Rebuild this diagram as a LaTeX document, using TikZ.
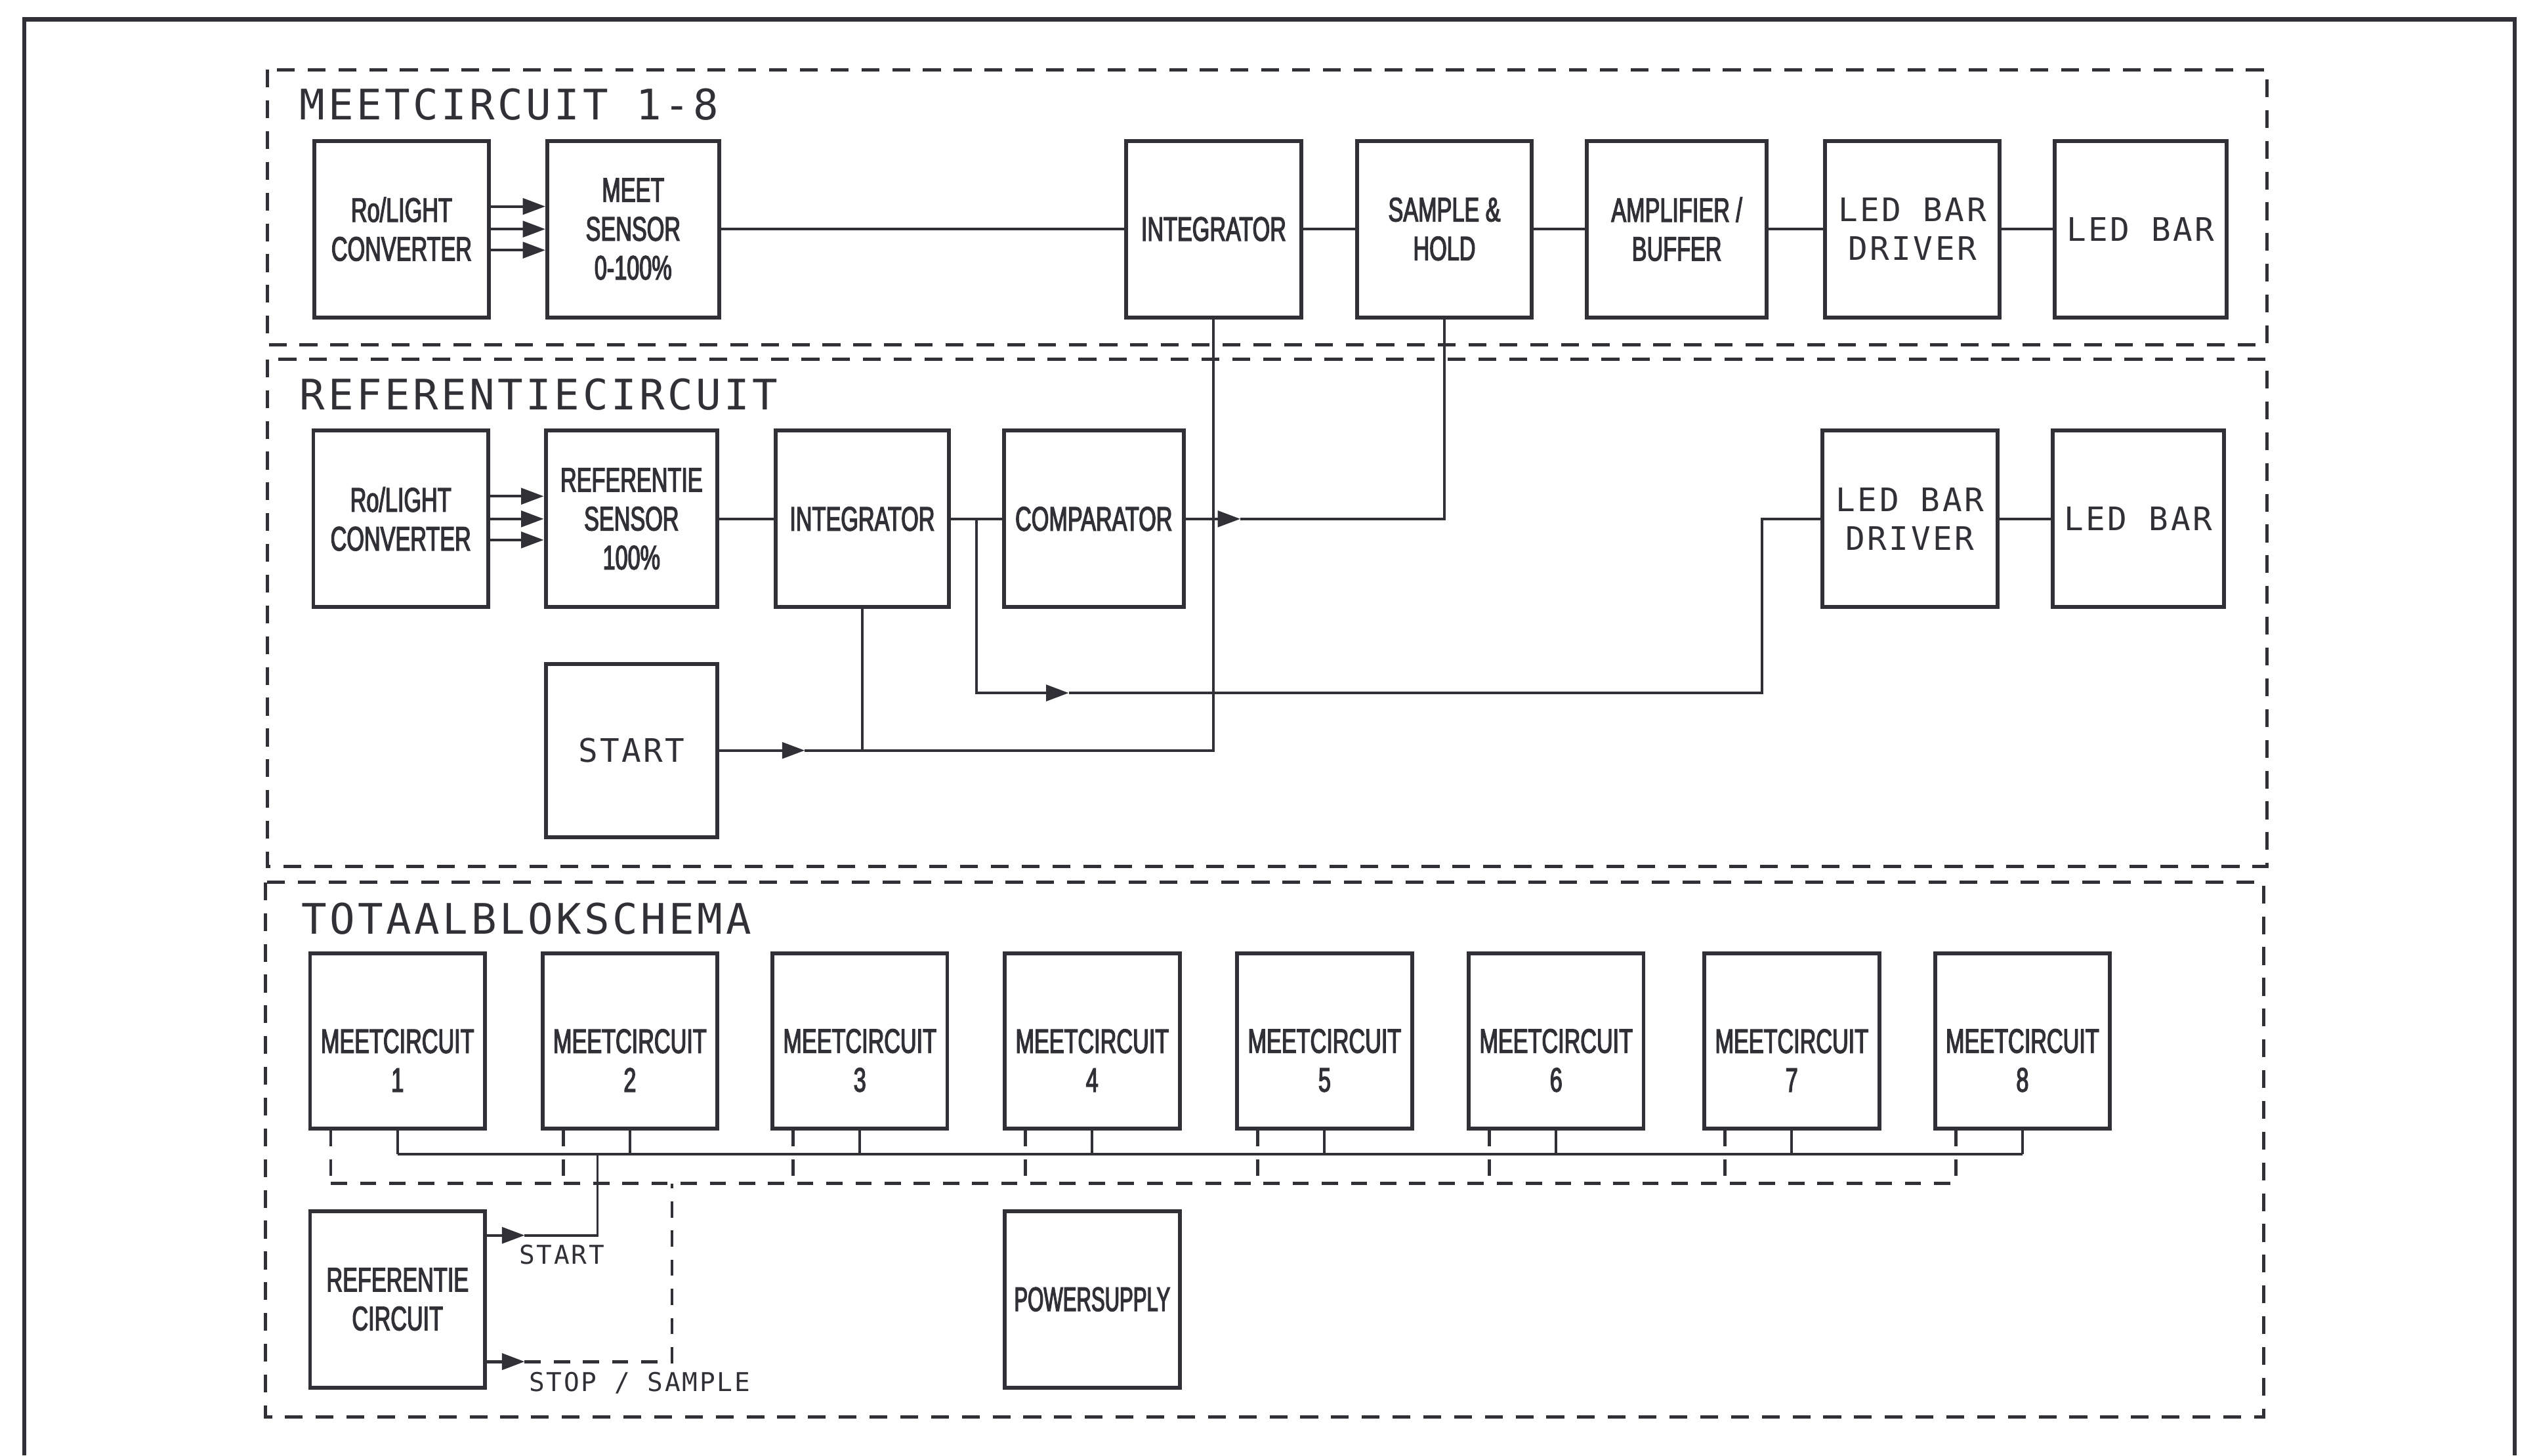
\documentclass[tikz,border=0pt]{standalone}
\usepackage{fontspec}
\usetikzlibrary{arrows.meta}
\newfontfamily\plotw[LetterSpace=7]{DejaVu Sans Mono}
\newfontfamily\plotc[FakeStretch=0.66,FakeBold=2.5]{Liberation Sans}
\newfontfamily\plotcc[FakeStretch=0.6,FakeBold=2.5]{Liberation Sans}
\definecolor{ink}{RGB}{48,48,54}
\begin{document}
\begin{tikzpicture}[x=1pt,y=-1pt,
  every node/.style={text=ink},
  blk/.style={draw=ink, line width=2.4pt, minimum width=108pt, minimum height=109pt,
    inner sep=0pt, align=center, font=\plotc\fontsize{21}{24}\selectfont},
  wblk/.style={blk, font=\plotw\fontsize{20}{24}\selectfont},
  mclab/.style={align=center, font=\plotc\fontsize{21}{24}\selectfont, yshift=-12pt, inner sep=0pt},
  title/.style={anchor=base west, inner sep=0pt, font=\plotw\fontsize{26}{30}\selectfont},
  lab/.style={inner sep=0pt, font=\plotw\fontsize{16}{20}\selectfont},
  frame/.style={draw=ink, line width=2pt, dash pattern=on 11pt off 8pt},
  conn/.style={draw=ink, line width=1.6pt},
  sig/.style={draw=ink, line width=1.9pt, dash pattern=on 10pt off 8pt},
  tip/.style={-{Triangle[length=14pt,width=10pt]}}
]
\useasboundingbox (0,0) rectangle (1568,899);
% outer frame
\draw[ink, line width=2.6pt] (15,899) -- (15,12) -- (1553,12) -- (1553,899);
% dashed section frames
\draw[frame] (165,43) rectangle (1400,213);
\draw[frame] (165,222) rectangle (1400,535);
\draw[frame] (164,545) rectangle (1398,875);
% titles
\node[title] (t1) at (185,74) {MEETCIRCUIT 1-8};
\node[title] (t2) at (185,253) {REFERENTIECIRCUIT};
\node[title] (t3) at (186,577) {TOTAALBLOKSCHEMA};

% ---- row 1: meetcircuit
\node[blk] (ro1) at (248,141.5) {Ro/LIGHT\\CONVERTER};
\node[blk, minimum width=106pt] (sens1) at (391,141.5) {MEET\\SENSOR\\0-100\%};
\node[blk] (int1) at (749.5,141.5) {INTEGRATOR};
\node[blk] (sh) at (892,141.5) {SAMPLE \&\\HOLD};
\node[blk, minimum width=111pt] (amp) at (1035.5,141.5) {AMPLIFIER /\\BUFFER};
\node[wblk] (drv1) at (1181,141.5) {LED BAR\\DRIVER};
\node[wblk, minimum width=106pt] (bar1) at (1322,141.5) {LED BAR};

% ---- row 2: referentiecircuit
\node[blk] (ro2) at (247.5,320.5) {Ro/LIGHT\\CONVERTER};
\node[blk, minimum width=106pt] (sens2) at (390,320.5) {REFERENTIE\\SENSOR\\100\%};
\node[blk, minimum width=107pt] (int2) at (532.5,320.5) {INTEGRATOR};
\node[blk, minimum width=111pt] (comp) at (675.5,320.5) {COMPARATOR};
\node[wblk] (drv2) at (1179.5,320.5) {LED BAR\\DRIVER};
\node[wblk, minimum width=106pt] (bar2) at (1320.5,320.5) {LED BAR};
\node[wblk, minimum width=106pt, minimum height=107pt] (start) at (390,463.5) {START};

% row 1 connectors
\foreach \dy in {14,0,-13} {
  \draw[conn,tip] ([yshift=\dy pt]ro1.east) -- ([yshift=\dy pt]sens1.west);
  \draw[conn,tip] ([yshift=\dy pt]ro2.east) -- ([yshift=\dy pt]sens2.west);
}
\draw[conn] (sens1.east) -- (int1.west);
\draw[conn] (int1.east) -- (sh.west);
\draw[conn] (sh.east) -- (amp.west);
\draw[conn] (amp.east) -- (drv1.west);
\draw[conn] (drv1.east) -- (bar1.west);

% row 2 connectors
\draw[conn] (sens2.east) -- (int2.west);
\draw[conn] (int2.east) -- (comp.west);
\draw[conn] (drv2.east) -- (bar2.west);
\coordinate (j1) at (603,320.5);
\coordinate (a1) at (660,428);
\coordinate (k1) at (1088,428);
\draw[conn,tip] (j1) |- (a1);
\draw[conn] (a1) -- (k1) |- (drv2.west);
\coordinate (a2) at (766,320.5);
\draw[conn,tip] (comp.east) -- (a2);
\draw[conn] (a2) -| (sh.south);
\coordinate (a3) at (497,463.5);
\draw[conn,tip] (start.east) -- (a3);
\draw[conn] (a3) -| (int1.south);
\draw[conn] (int2.south) -- (int2.south |- a3);

% ---- totaalblokschema
\foreach \i/\cx in {1/245.5,2/389,3/531,4/674.5,5/818,6/961,7/1106.5,8/1249} {
  \node[blk, minimum height=108pt, label={[mclab]center:MEETCIRCUIT\\\i}] (mc\i) at (\cx,643) {};
}
\node[blk] (refc) at (245.5,802.5) {REFERENTIE\\CIRCUIT};
\node[blk, font=\plotcc\fontsize{21}{24}\selectfont] (ps) at (674.5,802.5) {POWERSUPPLY};

\coordinate (busy) at (0,713);
\coordinate (dbus) at (0,731);
\foreach \i in {1,...,8} {
  \draw[conn] (mc\i.south) -- (mc\i.south |- busy);
  \coordinate (d\i) at ([xshift=14pt]mc\i.south west);
  \draw[sig] (d\i) -- (d\i |- dbus);
}
\draw[conn] (mc1.south |- busy) -- (mc8.south |- busy);
\draw[sig] (d1 |- dbus) -- (d8 |- dbus);

% START and STOP / SAMPLE signals
\coordinate (st1) at (369,763);
\coordinate (sa) at (324,763);
\draw[conn,tip] (refc.east |- st1) -- (sa);
\draw[conn] (sa) -- (st1) -- (st1 |- busy);
\coordinate (sp1) at (415,841);
\coordinate (sb) at (324,841);
\draw[sig,tip] (refc.east |- sp1) -- (sb);
\draw[sig] (sb) -- (sp1) -- (sp1 |- dbus);
\node[lab] (stl) at (347,775) {START};
\node[lab] (spl) at (395,854) {STOP / SAMPLE};
\end{tikzpicture}
\end{document}
